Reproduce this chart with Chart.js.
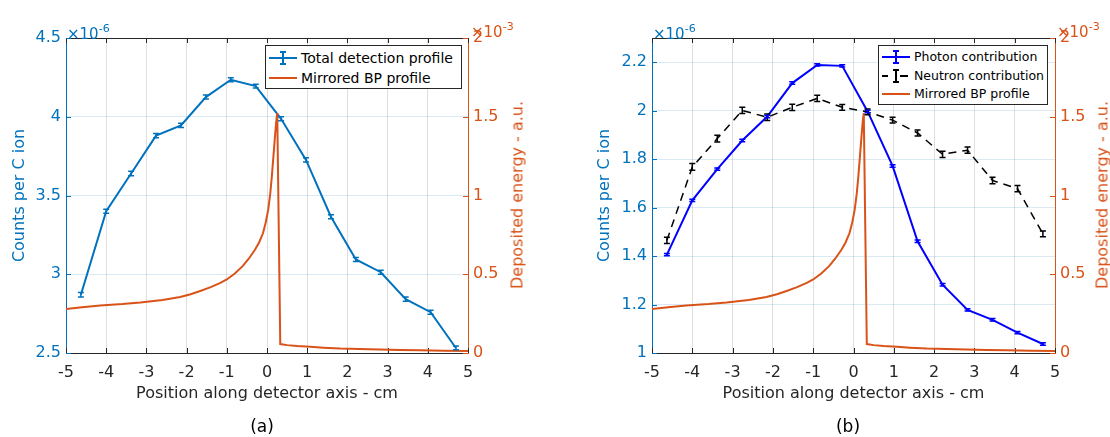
<!DOCTYPE html>
<html lang="en">
<head>
<meta charset="UTF-8">
<title>Detection profiles</title>
<script src="https://cdn.jsdelivr.net/npm/chart.js"></script>
<style>
    body { margin: 0; background: #fff; font-family: 'DejaVu Sans', sans-serif; }
    #wrap { position: relative; width: 1110px; height: 437px; overflow: hidden; }
    canvas { position: absolute; top: 0; }
    .exp { position: absolute; font-size: 15px; line-height: 15px; white-space: nowrap; }
    .exp span { font-size: 11px; vertical-align: 7px; }
    .rtitle { position: absolute; font-size: 16px; color: #D95319; white-space: nowrap;
              transform: translate(-50%, -50%) rotate(-90deg); }
    .legend { position: absolute; background: #fff; border: 1px solid #262626; box-sizing: border-box; color: #000; }
    .legend .row { position: absolute; left: 0; height: 20px; line-height: 20px; white-space: nowrap; }
    .legend svg { position: absolute; top: 3px; }
    .legend .txt { position: absolute; }
    .caption { position: absolute; font-size: 17px; color: #000; transform: translateX(-50%); }
</style>
</head>
<body>
<div id="wrap">
    <canvas id="chartA" width="555" height="437" style="left:0"></canvas>
    <canvas id="chartB" width="525" height="437" style="left:585px"></canvas>

    <div class="exp" style="left:67px; top:21px; color:#0072BD">&times;10<span>-6</span></div>
    <div class="exp" style="left:471px; top:19px; color:#D95319">&times;10<span>-3</span></div>
    <div class="exp" style="left:653px; top:21px; color:#0072BD">&times;10<span>-6</span></div>
    <div class="exp" style="left:1057px; top:19px; color:#D95319">&times;10<span>-3</span></div>

    <div class="rtitle" style="left:517px; top:195px">Deposited energy - a.u.</div>
    <div class="rtitle" style="left:1102px; top:195px">Deposited energy - a.u.</div>

    <div class="legend" style="left:265px; top:45px; width:197px; height:44px; font-size:14px">
        <div class="row" style="top:2px">
            <svg width="28" height="14" style="left:3px"><g stroke="#0072BD" stroke-width="2">
                <line x1="0" y1="7" x2="28" y2="7"/><line x1="14" y1="0" x2="14" y2="14"/>
                <line x1="11" y1="1" x2="17" y2="1"/><line x1="11" y1="13" x2="17" y2="13"/></g></svg>
            <span class="txt" style="left:35px">Total detection profile</span>
        </div>
        <div class="row" style="top:22px">
            <svg width="28" height="14" style="left:3px"><line x1="0" y1="7" x2="28" y2="7" stroke="#D95319" stroke-width="2"/></svg>
            <span class="txt" style="left:35px">Mirrored BP profile</span>
        </div>
    </div>

    <div class="legend" style="left:878px; top:45px; width:170px; height:60px; font-size:12.5px">
        <div class="row" style="top:1px">
            <svg width="28" height="14" style="left:3px"><g stroke="#0000FF" stroke-width="2">
                <line x1="0" y1="7" x2="28" y2="7"/><line x1="14" y1="0" x2="14" y2="14"/>
                <line x1="11" y1="1" x2="17" y2="1"/><line x1="11" y1="13" x2="17" y2="13"/></g></svg>
            <span class="txt" style="left:35px">Photon contribution</span>
        </div>
        <div class="row" style="top:19.5px">
            <svg width="28" height="14" style="left:3px"><g stroke="#000" stroke-width="2">
                <line x1="0" y1="7" x2="6" y2="7"/><line x1="18" y1="7" x2="26" y2="7"/>
                <line x1="14" y1="1" x2="14" y2="13"/>
                <line x1="11" y1="1" x2="17" y2="1"/><line x1="11" y1="13" x2="17" y2="13"/></g></svg>
            <span class="txt" style="left:35px">Neutron contribution</span>
        </div>
        <div class="row" style="top:38px">
            <svg width="28" height="14" style="left:3px"><line x1="0" y1="7" x2="28" y2="7" stroke="#D95319" stroke-width="2"/></svg>
            <span class="txt" style="left:35px">Mirrored BP profile</span>
        </div>
    </div>

    <div class="caption" style="left:262px; top:416px">(a)</div>
    <div class="caption" style="left:848px; top:416px">(b)</div>
</div>

<script>
// detector positions (cm)
const xPos = [-4.63, -4.0, -3.38, -2.76, -2.14, -1.52, -0.9, -0.28, 0.35, 0.97, 1.59, 2.21, 2.83, 3.45, 4.07, 4.7];

// (a) total detection profile, x1e-6 counts per C ion
const totalCounts = [2.87, 3.40, 3.64, 3.88, 3.945, 4.125, 4.235, 4.195, 3.987, 3.726, 3.365, 3.094, 3.013, 2.842, 2.759, 2.532];
const totalErr = [0.014, 0.013, 0.014, 0.013, 0.013, 0.013, 0.013, 0.012, 0.013, 0.013, 0.013, 0.013, 0.013, 0.013, 0.013, 0.012];

// (b) contributions, x1e-6 counts per C ion
const photonCounts = [1.406, 1.63, 1.759, 1.877, 1.976, 2.114, 2.189, 2.185, 1.997, 1.772, 1.461, 1.282, 1.178, 1.137, 1.084, 1.037];
const photonErr = [0.005, 0.005, 0.005, 0.005, 0.005, 0.005, 0.005, 0.005, 0.005, 0.005, 0.005, 0.005, 0.005, 0.005, 0.005, 0.005];
const neutronCounts = [1.465, 1.768, 1.885, 2.001, 1.973, 2.014, 2.051, 2.014, 1.995, 1.961, 1.908, 1.82, 1.837, 1.712, 1.678, 1.492];
const neutronErr = [0.013, 0.014, 0.014, 0.013, 0.013, 0.013, 0.013, 0.012, 0.012, 0.012, 0.012, 0.013, 0.013, 0.013, 0.013, 0.012];

// mirrored Bragg peak, x1e-3 a.u.
const bpX = [-5, -4.6, -4.15, -3.6, -3.15, -2.6, -2.16, -1.9, -1.66, -1.4, -1.16, -1.0, -0.8, -0.6, -0.45,
             -0.3, -0.2, -0.1, -0.03, 0.03, 0.08, 0.12, 0.16, 0.2, 0.23, 0.255, 0.33,
             0.5, 0.75, 1.08, 1.4, 1.82, 2.3, 2.81, 3.3, 3.81, 4.4, 5];
const bpY = [0.280, 0.290, 0.302, 0.311, 0.321, 0.337, 0.356, 0.373, 0.394, 0.418, 0.445, 0.467, 0.505, 0.553, 0.600,
             0.655, 0.700, 0.760, 0.830, 0.910, 1.010, 1.120, 1.250, 1.380, 1.470, 1.523, 0.057,
             0.050, 0.044, 0.039, 0.034, 0.028, 0.025, 0.022, 0.019, 0.017, 0.015, 0.013];

const xTicks = [-5, -4, -3, -2, -1, 0, 1, 2, 3, 4, 5];

const font = { family: "'DejaVu Sans', sans-serif", size: 16 };
const pts = (xs, ys) => xs.map((x, i) => ({ x: x, y: ys[i] }));
const plain = v => String(+Number(v).toFixed(2));

// vertical error bars with caps
const errorBars = {
    id: 'errorBars',
    afterDatasetsDraw(chart) {
        const ctx = chart.ctx;
        chart.data.datasets.forEach((ds, i) => {
            if (!ds.errors) return;
            const meta = chart.getDatasetMeta(i);
            const xs = chart.scales[meta.xAxisID], ys = chart.scales[meta.yAxisID];
            ctx.save();
            ctx.strokeStyle = ds.borderColor;
            ctx.lineWidth = 1.5;
            ctx.setLineDash([]);
            ds.data.forEach((p, j) => {
                const x = xs.getPixelForValue(p.x);
                const y0 = ys.getPixelForValue(p.y - ds.errors[j]);
                const y1 = ys.getPixelForValue(p.y + ds.errors[j]);
                ctx.beginPath();
                ctx.moveTo(x, y0); ctx.lineTo(x, y1);
                ctx.moveTo(x - 3, y0); ctx.lineTo(x + 3, y0);
                ctx.moveTo(x - 3, y1); ctx.lineTo(x + 3, y1);
                ctx.stroke();
            });
            ctx.restore();
        });
    }
};

// top box edge and inward tick marks
const frame = {
    id: 'frame',
    beforeDatasetsDraw(chart) {
        const { ctx, chartArea: a, scales } = chart;
        ctx.save();
        ctx.lineWidth = 1;
        ctx.strokeStyle = '#262626';
        ctx.beginPath();
        ctx.moveTo(a.left, a.top + 0.5); ctx.lineTo(a.right, a.top + 0.5);
        scales.x.ticks.forEach(t => {
            const px = Math.round(scales.x.getPixelForValue(t.value)) + 0.5;
            ctx.moveTo(px, a.bottom); ctx.lineTo(px, a.bottom - 5);
            ctx.moveTo(px, a.top); ctx.lineTo(px, a.top + 5);
        });
        ctx.stroke();
        [['y', a.left, 1], ['y2', a.right, -1]].forEach(([id, edge, dir]) => {
            const s = scales[id];
            ctx.strokeStyle = s.options.border.color;
            ctx.beginPath();
            s.ticks.forEach(t => {
                const py = Math.round(s.getPixelForValue(t.value)) + 0.5;
                ctx.moveTo(edge, py); ctx.lineTo(edge + dir * 5, py);
            });
            ctx.stroke();
        });
        ctx.restore();
    }
};

function makeChart(id, datasets, yMin, yMax, yStep, leftW, rightW) {
    return new Chart(document.getElementById(id), {
        type: 'line',
        data: { datasets: datasets },
        options: {
            responsive: false,
            animation: false,
            layout: { padding: { top: 38, bottom: 32, left: 0, right: 0 } },
            plugins: { legend: { display: false }, tooltip: { enabled: false } },
            scales: {
                x: {
                    type: 'linear', min: -5, max: 5,
                    afterBuildTicks: s => { s.ticks = xTicks.map(v => ({ value: v })); },
                    ticks: { color: '#262626', font: font, padding: 10, callback: plain },
                    grid: { color: 'rgba(38,38,38,0.15)', drawTicks: false },
                    border: { color: '#262626' },
                    title: { display: true, text: 'Position along detector axis - cm', color: '#262626', font: font, padding: { top: 0, bottom: 2 } },
                    afterFit: s => { s.height = 52; }
                },
                y: {
                    position: 'left', min: yMin, max: yMax,
                    ticks: { stepSize: yStep, includeBounds: false, color: '#0072BD', font: font, padding: 5, callback: plain },
                    grid: { color: 'rgba(0,114,189,0.15)', drawTicks: false },
                    border: { color: '#0072BD' },
                    title: { display: true, text: 'Counts per C ion', color: '#0072BD', font: font, padding: { top: 10, bottom: 0 } },
                    afterFit: s => { s.width = leftW; }
                },
                y2: {
                    position: 'right', min: 0, max: 2,
                    ticks: { stepSize: 0.5, color: '#D95319', font: font, padding: 5, callback: plain },
                    grid: { drawOnChartArea: false, drawTicks: false },
                    border: { color: '#D95319' },
                    afterFit: s => { s.width = rightW; }
                }
            }
        },
        plugins: [frame, errorBars]
    });
}

const bpSet = () => ({
    label: 'Mirrored BP profile', data: pts(bpX, bpY), yAxisID: 'y2',
    borderColor: '#D95319', borderWidth: 2, pointRadius: 0, tension: 0
});

makeChart('chartA', [
    bpSet(),
    {
        label: 'Total detection profile', data: pts(xPos, totalCounts), errors: totalErr, yAxisID: 'y',
        borderColor: '#0072BD', borderWidth: 2, pointRadius: 0
    }
], 2.5, 4.5, 0.5, 66, 87);

makeChart('chartB', [
    bpSet(),
    {
        label: 'Neutron contribution', data: pts(xPos, neutronCounts), errors: neutronErr, yAxisID: 'y',
        borderColor: '#000', borderWidth: 1.5, borderDash: [8, 6], pointRadius: 0
    },
    {
        label: 'Photon contribution', data: pts(xPos, photonCounts), errors: photonErr, yAxisID: 'y',
        borderColor: '#0000FF', borderWidth: 2, pointRadius: 2, pointStyle: 'rect',
        pointBackgroundColor: '#0000FF', pointBorderWidth: 0
    }
], 1, 2.3, 0.2, 67, 55);
</script>
</body>
</html>
